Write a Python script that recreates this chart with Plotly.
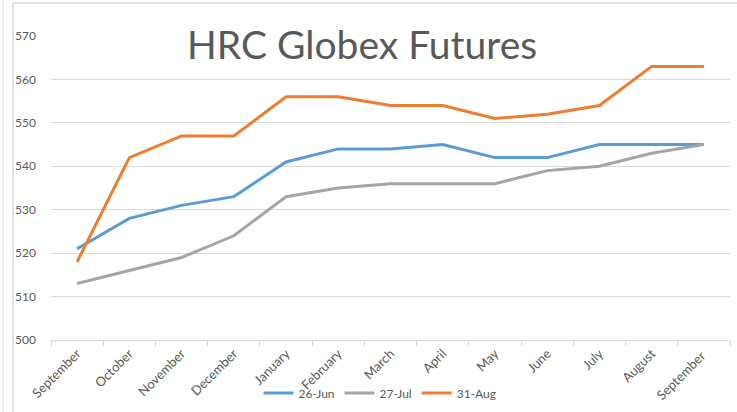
import plotly.graph_objects as go

months = ["September", "October", "November", "December", "January", "February",
          "March", "April", "May", "June", "July", "August", "September "]
jun26 = [521, 528, 531, 533, 541, 544, 544, 545, 542, 542, 545, 545, 545]
jul27 = [513, 516, 519, 524, 533, 535, 536, 536, 536, 539, 540, 543, 545]
aug31 = [518, 542, 547, 547, 556, 556, 554, 554, 551, 552, 554, 563, 563]
series_names = ["26-Jun", "27-Jul", "31-Aug"]
colors = ["#5B9BD5", "#A5A5A5", "#ED7D31"]

W, H = 737, 412
L, R, T, B = 51, 7, 36, 72
pw, ph = W - L - R, H - T - B

fig = go.Figure()
for name, vals, c in zip(series_names, [jun26, jul27, aug31], colors):
    fig.add_trace(go.Scatter(x=months, y=vals, mode="lines", name=name,
                             line=dict(color=c, width=3)))

def px(x):
    return (x - L) / pw

def py(y):
    return (H - B - y) / ph

fig.update_layout(
    width=W, height=H,
    margin=dict(l=L, r=R, t=T, b=B, autoexpand=False),
    paper_bgcolor="white", plot_bgcolor="white",
    font=dict(family="Lato, 'Open Sans', sans-serif", color="#595959", size=11),
    showlegend=True,
    legend=dict(orientation="h", x=px(380), y=py(393), xanchor="center", yanchor="middle",
                font=dict(size=12, color="#595959"), bgcolor="rgba(0,0,0,0)",
                itemwidth=30, tracegroupgap=0),
    xaxis=dict(type="category", tickangle=-45, showgrid=False, showline=True,
               linecolor="#D9D9D9", linewidth=1, ticks="outside", ticklen=5,
               tickcolor="#D9D9D9", tickson="boundaries", tickfont=dict(size=13),
               range=[-0.5, len(months) - 0.5], automargin=False),
    yaxis=dict(range=[500, 570], dtick=10, showgrid=True, gridcolor="#D9D9D9",
               gridwidth=1, zeroline=False, showline=False, ticks="",
               tickfont=dict(size=12), ticklabelstandoff=14, automargin=False),
    annotations=[dict(text="HRC Globex Futures", x=px(362), y=py(44),
                      xref="paper", yref="paper", showarrow=False,
                      xanchor="center", yanchor="middle",
                      font=dict(size=39, color="#595959",
                                family="Lato, 'Open Sans', sans-serif"))],
    shapes=[
        dict(type="line", xref="paper", yref="paper", x0=px(13), x1=px(13),
             y0=py(3), y1=py(412), line=dict(color="#D9D9D9", width=1.5)),
        dict(type="line", xref="paper", yref="paper", x0=px(3), x1=px(3),
             y0=py(0), y1=py(412), line=dict(color="#E6E6E6", width=1)),
        dict(type="line", xref="paper", yref="paper", x0=px(13), x1=px(737),
             y0=py(3), y1=py(3), line=dict(color="#D9D9D9", width=1.5)),
    ],
)
fig.write_html("out.html", config={"displayModeBar": False},
               post_script="document.body.style.margin='0';document.body.style.padding='0';document.body.style.overflow='hidden';")
